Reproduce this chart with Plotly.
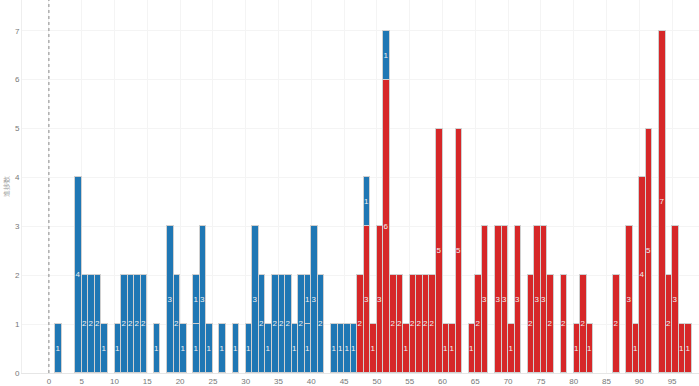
import plotly.graph_objects as go

# Data
blue_x = [1, 4, 5, 6, 7, 8, 10, 11, 12, 13, 14, 16, 18, 19, 20, 22, 23, 24, 26, 28, 30,
          31, 32, 33, 34, 35, 36, 37, 38, 39, 40, 41, 43, 44, 45, 46, 48, 51]
blue_y = [1, 4, 2, 2, 2, 1, 1, 2, 2, 2, 2, 1, 3, 2, 1, 1, 3, 1, 1, 1, 1,
          3, 2, 1, 2, 2, 2, 1, 2, 1, 3, 2, 1, 1, 1, 1, 1, 1]
blue2_x = [22, 39]
blue2_y = [1, 1]
red_x = [47, 48, 49, 50, 51, 52, 53, 54, 55, 56, 57, 58, 59, 60, 61, 62, 64, 65, 66,
         68, 69, 70, 71, 73, 74, 75, 76, 78, 80, 81, 82, 86, 88, 89, 90, 91, 93, 94,
         95, 96, 97]
red_y = [2, 3, 1, 3, 6, 2, 2, 1, 2, 2, 2, 2, 5, 1, 1, 5, 1, 2, 3,
         3, 3, 1, 3, 2, 3, 3, 2, 2, 1, 2, 1, 2, 3, 1, 4, 5, 7, 2,
         3, 1, 1]
x_ticks = list(range(0, 100, 5))
y_ticks = list(range(0, 8))
y_title = "進捗数"

BLUE = "#1f77b4"
RED = "#d62728"

def bar(xs, ys, color):
    return go.Bar(
        x=xs, y=ys, width=1, offset=0,
        marker=dict(color=color, line=dict(color="#d0d0d0", width=1)),
        text=[str(v) for v in ys], textposition="inside",
        insidetextanchor="middle", textangle=0,
        textfont=dict(color="#f0f0f0", size=8, family="Arial, Liberation Sans, sans-serif"),
        constraintext="none", showlegend=False,
    )

fig = go.Figure()
fig.add_trace(bar(red_x, red_y, RED))
fig.add_trace(bar(blue_x, blue_y, BLUE))
fig.add_trace(bar(blue2_x, blue2_y, BLUE))

fig.add_shape(type="line", xref="x", yref="paper", x0=0, x1=0, y0=0, y1=1,
              line=dict(color="#888", width=1, dash="dot"))

fig.update_layout(
    width=699, height=386,
    margin=dict(l=22, r=0, t=0, b=13),
    barmode="stack", bargap=0,
    plot_bgcolor="white", paper_bgcolor="white",
    uniformtext=dict(minsize=8, mode="show"),
    font=dict(family="Arial, Liberation Sans, sans-serif", color="#777", size=8),
    xaxis=dict(range=[-4.1, 99.1], tickvals=x_ticks, showgrid=True, gridcolor="#f4f4f4",
               zeroline=False, showline=True, linecolor="#e6e6e6", ticks="",
               tickfont=dict(size=8, color="#777")),
    yaxis=dict(range=[0, 7.63], tickvals=y_ticks, showgrid=True, gridcolor="#f4f4f4",
               zeroline=False, showline=True, linecolor="#eeeeee", ticks="",
               tickfont=dict(size=8, color="#777"),
               title=dict(text=y_title, font=dict(size=7, color="#999"), standoff=4)),
)

fig.write_html("out.html", config={"displayModeBar": False},
               post_script="document.body.style.margin='0';document.body.style.padding='0';")
